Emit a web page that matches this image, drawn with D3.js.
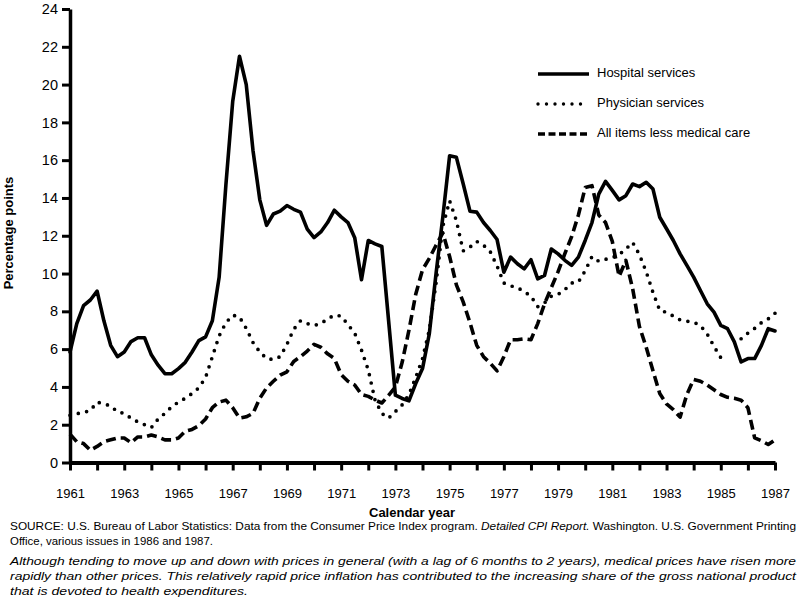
<!DOCTYPE html>
<html>
<head>
<meta charset="utf-8">
<script src="https://cdn.jsdelivr.net/npm/d3@7"></script>
<style>
  html, body { margin: 0; padding: 0; background: #fff; }
  svg { display: block; font-family: "Liberation Sans", Arial, Helvetica, sans-serif; }
</style>
</head>
<body>
<svg id="chart" width="800" height="597"></svg>
<script>
// ---- Data (quarterly, 1961 Q1 .. 1987 Q1) ----
const startYear = 1961;
const periodsPerYear = 4;

const hospital = [
  5.85, 7.35, 8.3, 8.6,
  9.07, 7.5, 6.2, 5.6,
  5.85, 6.4, 6.6, 6.6,
  5.7, 5.15, 4.7, 4.7,
  4.97, 5.3, 5.85, 6.45,
  6.65, 7.5, 9.8, 14.7,
  19.1, 21.5, 20.0, 16.5,
  13.9, 12.55, 13.15, 13.3,
  13.6, 13.4, 13.25, 12.35,
  11.9, 12.2, 12.7, 13.35,
  13.0, 12.7, 11.9, 9.67,
  11.75, 11.57, 11.43, 7.5,
  3.56, 3.39, 3.26, 4.18,
  4.97, 6.8, 10.0, 13.0,
  16.23, 16.15, 14.75, 13.3,
  13.25, 12.7, 12.28, 11.8,
  10.07, 10.87, 10.52, 10.25,
  10.73, 9.72, 9.9, 11.3,
  11.04, 10.7, 10.43, 10.87,
  11.75, 12.7, 14.2, 14.88,
  14.4, 13.9, 14.12, 14.74,
  14.6, 14.83, 14.47, 12.98,
  12.37, 11.75, 11.04, 10.43,
  9.81, 9.1, 8.4, 7.96,
  7.26, 7.08, 6.38, 5.32,
  5.5, 5.5, 6.2, 7.08,
  6.96
];

const physician = [
  2.5, 2.58, 2.65, 2.75,
  3.2, 3.1, 3.0, 2.68,
  2.6, 2.35, 2.15, 2.0,
  1.85, 2.3, 2.6, 2.95,
  3.2, 3.4, 3.65, 3.95,
  4.5, 5.6, 6.7, 7.4,
  7.8, 7.7, 7.1, 6.35,
  5.85, 5.5, 5.45, 5.6,
  6.25, 7.05, 7.5, 7.35,
  7.25, 7.35, 7.6, 7.8,
  7.75, 7.3, 6.85, 5.95,
  4.9, 3.3, 2.6, 2.35,
  2.7, 3.05, 3.6, 4.5,
  5.5, 7.0, 9.5, 12.5,
  13.85, 12.8, 11.2, 11.4,
  11.7, 11.5, 11.15, 10.4,
  9.5, 9.35, 9.25, 9.05,
  8.8, 8.25, 8.45, 8.8,
  8.9, 9.15, 9.5, 9.55,
  10.15, 10.9, 10.65, 10.75,
  10.85, 11.0, 11.3, 11.65,
  11.0, 10.1, 9.0, 8.05,
  7.95, 7.75, 7.55, 7.48,
  7.43, 7.25, 6.8, 6.15,
  5.55, 5.45, null, 6.55,
  6.85, 7.1, 7.4, 7.6,
  7.9
];

const allItems = [
  1.5, 1.1, 1.0, 0.65,
  0.85, 1.1, 1.2, 1.3,
  1.3, 1.05, 1.35, 1.35,
  1.45, 1.35, 1.2, 1.2,
  1.3, 1.65, 1.75, 1.95,
  2.3, 2.9, 3.2, 3.3,
  2.9, 2.35, 2.42, 2.6,
  3.4, 3.95, 4.3, 4.62,
  4.8, 5.35, 5.6, 5.9,
  6.25, 6.1, 5.75, 5.5,
  4.65, 4.3, 4.1, 3.6,
  3.5, 3.3, 3.15, 3.55,
  4.0, 5.3, 7.0, 8.9,
  10.2, 10.8, 11.5, 12.15,
  10.9, 9.4, 8.5, 7.4,
  6.2, 5.6, 5.25, 4.85,
  5.6, 6.5, 6.5, 6.55,
  6.5, 7.35, 8.4, 9.25,
  10.1, 11.05, 11.95, 13.1,
  14.55, 14.65, 13.1, 12.7,
  11.7, 9.85, 10.7, 9.2,
  7.2, 6.1, 4.85, 3.65,
  3.1, 2.8, 2.4, 3.6,
  4.4, 4.3, 4.1, 3.85,
  3.6, 3.45, 3.4, 3.3,
  2.9, 1.3, 1.15, 0.95,
  1.2
];

const seriesNames = ["Hospital services", "Physician services", "All items less medical care"];
const yTicks = [0, 2, 4, 6, 8, 10, 12, 14, 16, 18, 20, 22, 24];
const xTickYears = [1961,1962,1963,1964,1965,1966,1967,1968,1969,1970,1971,1972,1973,1974,
                    1975,1976,1977,1978,1979,1980,1981,1982,1983,1984,1985,1986,1987];
const xLabelYears = [1961,1963,1965,1967,1969,1971,1973,1975,1977,1979,1981,1983,1985,1987];
const yTitle = "Percentage points";
const xTitle = "Calendar year";

// ---- Drawing ----
const svg = d3.select("#chart");
svg.append("rect").attr("width", 800).attr("height", 597).attr("fill", "#fff");

const x = d3.scaleLinear().domain([1961, 1987]).range([70, 775]);
const y = d3.scaleLinear().domain([0, 24]).range([462.5, 9]);

// y axis
const gy = svg.append("g")
  .attr("transform", "translate(70,0)")
  .call(d3.axisLeft(y).tickValues(yTicks).tickSize(8).tickSizeOuter(0).tickPadding(4));
gy.select(".domain").attr("stroke", "#000").attr("stroke-width", 3.5);
gy.selectAll(".tick line").attr("stroke", "#000").attr("stroke-width", 3);
gy.selectAll(".tick text").attr("font-size", 14.5).attr("fill", "#000")
  .attr("font-family", "'Liberation Sans', Arial, sans-serif");

// x axis
const gx = svg.append("g")
  .attr("transform", "translate(0,462.5)")
  .call(d3.axisBottom(x).tickValues(xTickYears).tickSize(8).tickSizeOuter(0).tickPadding(18)
    .tickFormat(d => xLabelYears.includes(d) ? String(d) : ""));
gx.select(".domain").attr("stroke", "#000").attr("stroke-width", 4);
gx.selectAll(".tick line").attr("stroke", "#000").attr("stroke-width", 3);
gx.selectAll(".tick text").attr("font-size", 13).attr("fill", "#000")
  .attr("font-family", "'Liberation Sans', Arial, sans-serif");

// axis titles
svg.append("text")
  .attr("transform", "translate(13,233) rotate(-90)")
  .attr("text-anchor", "middle")
  .attr("font-size", 13).attr("font-weight", "bold")
  .text(yTitle);

svg.append("text")
  .attr("x", 412).attr("y", 517)
  .attr("text-anchor", "middle")
  .attr("font-size", 13).attr("font-weight", "bold")
  .text(xTitle);

// lines
const line = d3.line()
  .defined(d => d != null)
  .x((d, i) => x(startYear + i / periodsPerYear))
  .y(d => y(d));

const styles = [
  { data: hospital, dash: null, cap: "round", width: 3.6 },
  { data: physician, dash: "0 8.5", cap: "round", width: 3.7 },
  { data: allItems, dash: "10 5", cap: "butt", width: 3.6 }
];

styles.forEach(s => {
  const p = svg.append("path")
    .datum(s.data)
    .attr("fill", "none")
    .attr("stroke", "#000")
    .attr("stroke-width", s.width)
    .attr("stroke-linejoin", "round")
    .attr("stroke-linecap", s.cap)
    .attr("d", line);
  if (s.dash) p.attr("stroke-dasharray", s.dash);
});

// legend
const legendY = [74, 104, 134];
const legendDash = [null, "0 8.5", "7 3.5"];
const legendCap = ["butt", "round", "butt"];
seriesNames.forEach((name, i) => {
  const l = svg.append("line")
    .attr("x1", 538).attr("x2", 589)
    .attr("y1", legendY[i]).attr("y2", legendY[i])
    .attr("stroke", "#000").attr("stroke-width", 3.4)
    .attr("stroke-linecap", legendCap[i]);
  if (legendDash[i]) l.attr("stroke-dasharray", legendDash[i]);
  svg.append("text")
    .attr("x", 597).attr("y", legendY[i] + 3)
    .attr("font-size", 13)
    .text(name);
});

// footnotes
const notes = svg.append("g").attr("font-size", 11.5).attr("fill", "#000");
const t1 = notes.append("text").attr("x", 10).attr("y", 530)
  .attr("textLength", 786).attr("lengthAdjust", "spacingAndGlyphs");
t1.append("tspan").text("SOURCE: U.S. Bureau of Labor Statistics: Data from the Consumer Price Index program. ");
t1.append("tspan").attr("font-style", "italic").text("Detailed CPI Report.");
t1.append("tspan").text(" Washington. U.S. Government Printing");

notes.append("text").attr("x", 10).attr("y", 545)
  .attr("textLength", 203).attr("lengthAdjust", "spacingAndGlyphs")
  .text("Office, various issues in 1986 and 1987.");

const italicLines = [
  { t: "Although tending to move up and down with prices in general (with a lag of 6 months to 2 years), medical prices have risen more", y: 565, w: 786 },
  { t: "rapidly than other prices. This relatively rapid price inflation has contributed to the increasing share of the gross national product", y: 580, w: 786 },
  { t: "that is devoted to health expenditures.", y: 595, w: 238 }
];
italicLines.forEach(d => {
  notes.append("text").attr("x", 10).attr("y", d.y)
    .attr("font-style", "italic")
    .attr("textLength", d.w).attr("lengthAdjust", "spacingAndGlyphs")
    .text(d.t);
});
</script>
</body>
</html>
